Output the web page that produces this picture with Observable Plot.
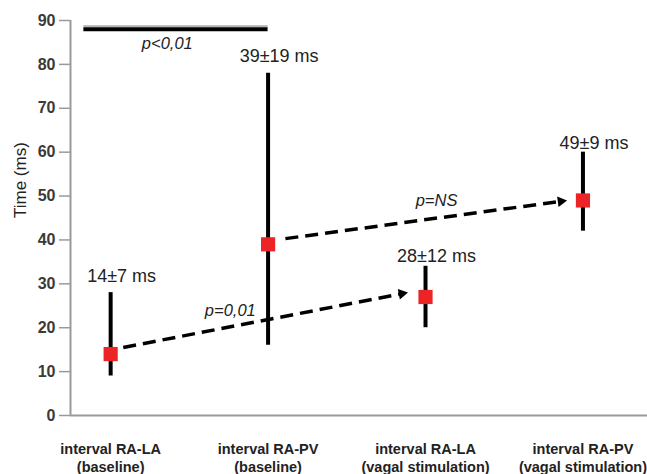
<!DOCTYPE html>
<html>
<head>
<meta charset="utf-8">
<script src="https://cdn.jsdelivr.net/npm/d3@7"></script>
<script src="https://cdn.jsdelivr.net/npm/@observablehq/plot@0.6"></script>
<style>
  html, body { margin: 0; padding: 0; background: #fff; }
</style>
</head>
<body>
<div id="chart"></div>
<script>
// ---- data ----
const categories = [
  "interval RA-LA\n(baseline)",
  "interval RA-PV\n(baseline)",
  "interval RA-LA\n(vagal stimulation)",
  "interval RA-PV\n(vagal stimulation)"
];
const xPos = [1, 2, 3, 4];
const means = [14, 39, 27, 49];
const lows = [9, 16, 20, 42];
const highs = [28, 78, 34, 60];
const valueLabels = ["14±7 ms", "39±19 ms", "28±12 ms", "49±9 ms"];
const valueLabelY = [31.7, 81.8, 36.4, 62.1];
const yTicks = [0, 10, 20, 30, 40, 50, 60, 70, 80, 90];

// comparison arrows (start -> end), and p-value labels
const arrowX1 = [1.08, 2.11];
const arrowY1 = [15.5, 40.3];
const arrowX2 = [2.85, 3.86];
const arrowY2 = [27.75, 48.8];
const pLabels = ["p<0,01", "p=0,01", "p=NS"];
const pLabelX = [1.36, 1.76, 3.07];
const pLabelY = [84.7, 23.9, 49.0];
// significance bar at the top
const barX1 = [0.83];
const barX2 = [2.0];
const barY = [88];

// ---- layout ----
const W = 647, H = 474;
const mL = 70, mR = 0, mT = 20, mB = 59;
const xDomain = [0.745, 4.41];
const yDomain = [0, 90];

const sx = d3.scaleLinear(xDomain, [mL, W - mR]);
const sy = d3.scaleLinear(yDomain, [H - mB, mT]);

const arrows = arrowX1.map((x1, i) => {
  const x2 = arrowX2[i], y1 = arrowY1[i], y2 = arrowY2[i];
  const dx = sx(x2) - sx(x1), dy = sy(y2) - sy(y1);
  return {x1, y1, x2, y2, angle: Math.atan2(dx, -dy) * 180 / Math.PI};
});
const points = xPos.map((x, i) => ({x, mean: means[i], lo: lows[i], hi: highs[i], label: valueLabels[i], ly: valueLabelY[i], cat: categories[i]}));
const pData = pLabels.map((t, i) => ({t, x: pLabelX[i], y: pLabelY[i]}));
const bar = barX1.map((x1, i) => ({x1, x2: barX2[i], y: barY[i]}));

const font = "'Liberation Sans', Arial, Helvetica, sans-serif";

const plot = Plot.plot({
  width: W,
  height: H,
  marginLeft: mL,
  marginRight: mR,
  marginTop: mT,
  marginBottom: mB,
  style: {fontFamily: font, background: "#fff", overflow: "visible"},
  x: {type: "linear", domain: xDomain, axis: null},
  y: {type: "linear", domain: yDomain, axis: null},
  marks: [
    // axes
    Plot.ruleY([0], {stroke: "#9a9a9a", strokeWidth: 2}),
    Plot.ruleX([xDomain[0]], {y1: 0, y2: 90, stroke: "#9a9a9a", strokeWidth: 2}),
    Plot.axisY({ticks: yTicks, tickSize: 11, tickPadding: 4, stroke: "#9a9a9a", strokeWidth: 1.5, fill: "#3a3a3a", fontSize: 16, fontWeight: "bold", label: null}),
    Plot.text(["Time (ms)"], {frameAnchor: "left", dx: -50, rotate: -90, fontSize: 17, fill: "#222"}),
    // category labels
    Plot.text(points, {x: "x", text: "cat", frameAnchor: "bottom", dy: 25, lineAnchor: "top", lineHeight: 1.28, fontSize: 14.5, fontWeight: "bold", fill: "#222"}),
    // significance bar
    Plot.ruleY(bar, {x1: "x1", x2: "x2", y: "y", dy: -3, stroke: "#b0b0b0", strokeWidth: 2}),
    Plot.ruleY(bar, {x1: "x1", x2: "x2", y: "y", stroke: "#000", strokeWidth: 4}),
    // error bars
    Plot.ruleX(points, {x: "x", y1: "lo", y2: "hi", stroke: "#000", strokeWidth: 4}),
    // dashed comparison arrows
    Plot.link(arrows, {x1: "x1", y1: "y1", x2: "x2", y2: "y2", stroke: "#000", strokeWidth: 3.5, strokeDasharray: "13,7"}),
    Plot.dot(arrows, {x: "x2", y: "y2", symbol: "triangle", r: 4, fill: "#000", stroke: "none", rotate: "angle"}),
    // means
    Plot.dot(points, {x: "x", y: "mean", symbol: "square", r: 8, fill: "#ec2426", stroke: "none"}),
    // value labels
    Plot.text(points, {x: "x", y: "ly", text: "label", dx: 11, fontSize: 18, fill: "#222"}),
    // p labels
    Plot.text(pData, {x: "x", y: "y", text: "t", fontSize: 16.5, fontStyle: "italic", fill: "#222"})
  ]
});
document.getElementById("chart").appendChild(plot);
</script>
</body>
</html>
